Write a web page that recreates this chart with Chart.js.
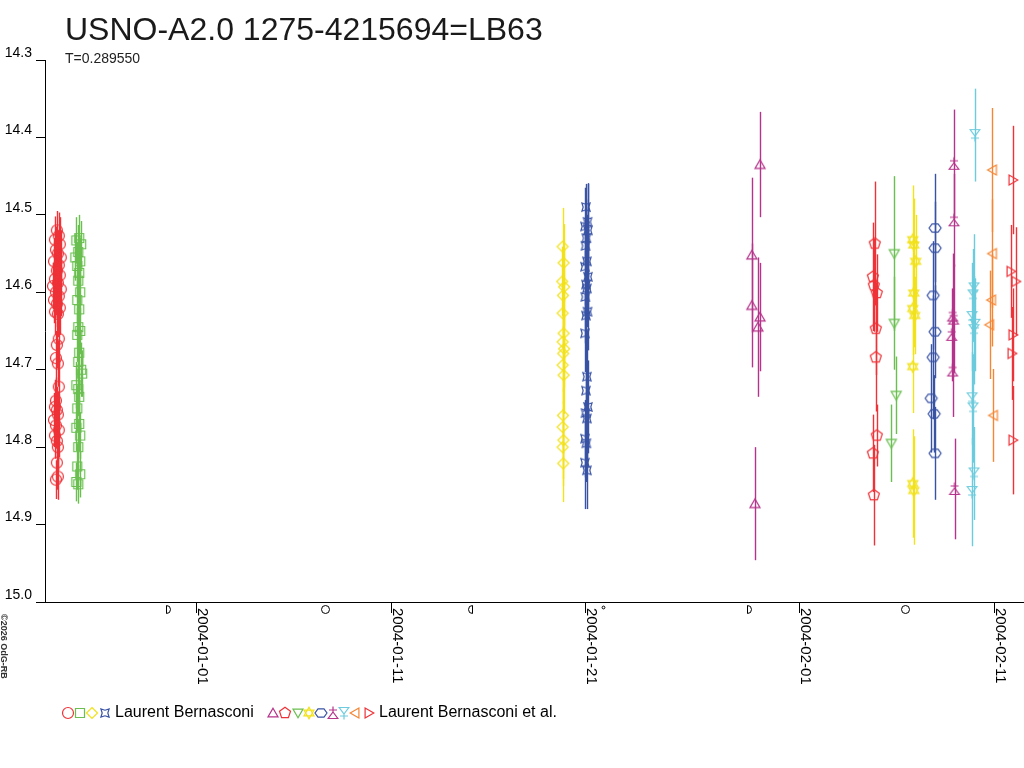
<!DOCTYPE html>
<html>
<head>
<meta charset="utf-8">
<script src="https://cdn.jsdelivr.net/npm/chart.js@4/dist/chart.umd.min.js"></script>
<style>
html,body{margin:0;padding:0;background:#fff;}
canvas{display:block;}
</style>
</head>
<body>
<canvas id="c" width="1024" height="768"></canvas>
<script>
// ---------- DATA (x = days since 2004-01-01, y = magnitude, e = error) ----------
const titleText = 'USNO-A2.0 1275-4215694=LB63';
const subtitleText = 'T=0.289550';
const copyrightText = '\u00A92026 OdG-RB';
const observerNames = ['Laurent Bernasconi', 'Laurent Bernasconi et al.'];

const xTickDays = [0, 10, 20, 31, 41];
const xTickLabels = ['2004-01-01', '2004-01-11', '2004-01-21', '2004-02-01', '2004-02-11'];
const yTickValues = [14.3, 14.4, 14.5, 14.6, 14.7, 14.8, 14.9, 15.0];
const yTickLabels = ['14.3', '14.4', '14.5', '14.6', '14.7', '14.8', '14.9', '15.0'];

const moonDays = [-1.5, 6.6, 14.05, 20.9, 28.4, 36.4];
const moonPhases = ['first', 'full', 'last', 'new', 'first', 'full'];

const redCircles = [
  [-7.20,14.520,0.025],[-7.10,14.527,0.03],[-7.30,14.532,0.03],[-7.05,14.538,0.035],[-7.25,14.545,0.03],
  [-7.15,14.550,0.03],[-7.00,14.555,0.035],[-7.35,14.560,0.03],[-7.10,14.565,0.03],[-7.20,14.572,0.03],
  [-7.05,14.578,0.035],[-7.30,14.583,0.03],[-7.15,14.588,0.03],[-7.40,14.592,0.03],[-7.00,14.596,0.035],
  [-7.25,14.600,0.03],[-7.10,14.605,0.03],[-7.35,14.610,0.03],[-7.20,14.615,0.03],[-7.05,14.620,0.035],
  [-7.30,14.625,0.03],[-7.15,14.628,0.03],[-7.10,14.660,0.035],[-7.20,14.668,0.03],[-7.25,14.685,0.035],
  [-7.15,14.692,0.03],[-7.10,14.722,0.035],[-7.25,14.740,0.03],[-7.30,14.748,0.035],[-7.20,14.752,0.03],
  [-7.15,14.758,0.03],[-7.35,14.765,0.035],[-7.25,14.772,0.03],[-7.10,14.778,0.035],[-7.30,14.785,0.03],
  [-7.20,14.792,0.03],[-7.15,14.800,0.03],[-7.20,14.820,0.035],[-7.15,14.838,0.03],[-7.25,14.842,0.025]
];
const greenSquares = [
  [-6.05,14.530,0.03],[-6.20,14.533,0.03],[-5.95,14.538,0.03],[-6.10,14.548,0.035],[-6.25,14.555,0.03],
  [-6.00,14.560,0.03],[-6.15,14.566,0.03],[-6.05,14.575,0.035],[-6.10,14.585,0.03],[-6.00,14.600,0.03],
  [-6.15,14.610,0.03],[-6.05,14.622,0.035],[-6.10,14.645,0.03],[-6.00,14.650,0.03],[-6.15,14.655,0.035],
  [-6.05,14.678,0.03],[-6.10,14.690,0.03],[-5.95,14.700,0.035],[-5.90,14.705,0.03],[-6.20,14.720,0.03],
  [-6.10,14.725,0.035],[-6.05,14.735,0.03],[-6.15,14.750,0.03],[-6.05,14.770,0.035],[-6.20,14.775,0.03],
  [-6.00,14.785,0.03],[-6.10,14.800,0.035],[-6.15,14.825,0.03],[-6.00,14.835,0.03],[-6.20,14.845,0.025],
  [-6.10,14.848,0.025]
];
const yellowDiamonds = [
  [18.80,14.541,0.05],[18.85,14.562,0.05],[18.78,14.586,0.045],[18.88,14.593,0.05],[18.82,14.604,0.05],
  [18.80,14.627,0.05],[18.85,14.653,0.045],[18.80,14.664,0.05],[18.88,14.673,0.05],[18.83,14.679,0.05],
  [18.80,14.694,0.05],[18.85,14.707,0.05],[18.82,14.759,0.05],[18.80,14.774,0.05],[18.84,14.791,0.05],
  [18.80,14.800,0.05],[18.83,14.821,0.05]
];
const blueStars = [
  [20.00,14.490,0.03],[20.08,14.509,0.05],[19.95,14.515,0.05],[20.10,14.520,0.06],[20.02,14.530,0.05],
  [19.98,14.540,0.05],[20.05,14.560,0.06],[19.95,14.567,0.05],[20.10,14.580,0.05],[20.00,14.590,0.06],
  [20.05,14.595,0.05],[19.97,14.606,0.06],[20.08,14.625,0.05],[20.00,14.630,0.06],[19.95,14.653,0.05],
  [20.05,14.709,0.06],[20.00,14.727,0.05],[20.10,14.748,0.06],[19.98,14.756,0.05],[20.05,14.763,0.06],
  [19.95,14.789,0.05],[20.02,14.795,0.05],[19.95,14.820,0.06],[20.05,14.830,0.05]
];
const magentaTriangles = [
  [28.95,14.435,0.068],[28.53,14.552,0.10],[28.53,14.617,0.08],[28.95,14.632,0.07],[28.84,14.645,0.09],[28.69,14.873,0.073]
];
const redPentagons = [
  [34.85,14.537,0.08],[34.75,14.580,0.07],[34.80,14.591,0.06],[34.95,14.601,0.05],[34.90,14.647,0.06],
  [34.90,14.684,0.07],[34.95,14.785,0.04],[34.75,14.808,0.05],[34.80,14.862,0.065]
];
const greenDownTriangles = [
  [35.85,14.550,0.10],[35.85,14.640,0.06],[35.95,14.733,0.05],[35.70,14.795,0.05]
];
const yellowStars6 = [
  [36.80,14.532,0.07],[36.85,14.539,0.06],[36.95,14.560,0.06],[36.85,14.601,0.07],[36.80,14.621,0.06],
  [36.90,14.630,0.05],[36.80,14.696,0.06],[36.80,14.847,0.07],[36.85,14.856,0.07]
];
const blueHexagons = [
  [37.95,14.517,0.07],[37.95,14.543,0.06],[37.85,14.604,0.07],[37.95,14.651,0.06],[37.85,14.684,0.08],
  [37.75,14.737,0.07],[37.90,14.757,0.05],[37.95,14.808,0.06]
];
const magentaTriStars = [
  [38.92,14.434,0.07],[38.92,14.507,0.06],[38.85,14.630,0.08],[38.90,14.634,0.07],[38.80,14.655,0.06],
  [38.85,14.701,0.06],[38.95,14.854,0.065]
];
const cyanTriStars = [
  [40.00,14.397,0.06],[39.95,14.595,0.07],[39.90,14.604,0.06],[39.85,14.632,0.07],[40.00,14.642,0.06],
  [39.95,14.649,0.07],[39.85,14.737,0.06],[39.90,14.750,0.07],[39.95,14.834,0.06],[39.85,14.858,0.07]
];
const orangeLeftTriangles = [
  [40.90,14.442,0.08],[40.90,14.550,0.07],[40.85,14.610,0.06],[40.75,14.642,0.07],[40.95,14.759,0.06]
];
const redRightTriangles = [
  [41.95,14.455,0.07],[41.85,14.573,0.06],[42.10,14.586,0.07],[41.95,14.655,0.06],[41.90,14.679,0.06],[41.95,14.791,0.07]
];

// ---------- STYLE ----------
const COL = {
  red: '#ee3338', green: '#6abf50', yellow: '#f2e21c', blue: '#3953a4',
  magenta: '#b5338a', cyan: '#6ccbdc', orange: '#f58634'
};
const FONT = '"Liberation Sans", Arial, Helvetica, sans-serif';

function polyPath(g, n, r, startDeg, sy) {
  sy = sy || 1;
  for (let i = 0; i < n; i++) {
    const a = (startDeg + i * 360 / n) * Math.PI / 180;
    const px = r * Math.cos(a), py = r * Math.sin(a) * sy;
    if (i === 0) g.moveTo(px, py); else g.lineTo(px, py);
  }
  g.closePath();
}
function makeSymbol(kind, color) {
  const c = document.createElement('canvas');
  c.width = 16; c.height = 16;
  const g = c.getContext('2d');
  g.strokeStyle = color; g.lineWidth = 1.2;
  g.translate(8, 8);
  g.beginPath();
  switch (kind) {
    case 'circle': g.arc(0, 0, 5.5, 0, Math.PI * 2); break;
    case 'square': g.rect(-4.5, -4.5, 9, 9); break;
    case 'diamond': g.moveTo(0, -5.5); g.lineTo(5.5, 0); g.lineTo(0, 5.5); g.lineTo(-5.5, 0); g.closePath(); break;
    case 'star4': {
      for (let i = 0; i < 8; i++) {
        const a = (45 + i * 45) * Math.PI / 180;
        const r = (i % 2 === 0) ? 5.8 : 2.8;
        const px = r * Math.cos(a), py = r * Math.sin(a);
        if (i === 0) g.moveTo(px, py); else g.lineTo(px, py);
      }
      g.closePath(); break;
    }
    case 'triUp': g.translate(0, 1); polyPath(g, 3, 5.8, -90); break;
    case 'triDown': g.translate(0, -1); polyPath(g, 3, 5.8, 90); break;
    case 'triLeft': g.translate(1, 0); polyPath(g, 3, 5.8, 180); break;
    case 'triRight': g.translate(-1, 0); polyPath(g, 3, 5.8, 0); break;
    case 'pentagon': polyPath(g, 5, 5.8, -90); break;
    case 'hexagon': polyPath(g, 6, 6, 0, 0.8); break;
    case 'star6': polyPath(g, 3, 5.8, -90); polyPath(g, 3, 5.8, 90); break;
    case 'triStarUp':
      g.moveTo(0, -1); g.lineTo(4.8, 5.5); g.lineTo(-4.8, 5.5); g.closePath();
      g.moveTo(0, -1); g.lineTo(0, -6.5);
      g.moveTo(-4, -3); g.lineTo(4, -3);
      break;
    case 'triStarDown':
      g.moveTo(0, 1); g.lineTo(4.8, -5.5); g.lineTo(-4.8, -5.5); g.closePath();
      g.moveTo(0, 1); g.lineTo(0, 6.5);
      g.moveTo(-4, 3); g.lineTo(4, 3);
      break;
  }
  g.stroke();
  return c;
}

const seriesDefs = [
  { data: redCircles, kind: 'circle', color: COL.red, group: 0 },
  { data: greenSquares, kind: 'square', color: COL.green, group: 0 },
  { data: yellowDiamonds, kind: 'diamond', color: COL.yellow, group: 0 },
  { data: blueStars, kind: 'star4', color: COL.blue, group: 0 },
  { data: magentaTriangles, kind: 'triUp', color: COL.magenta, group: 1 },
  { data: redPentagons, kind: 'pentagon', color: COL.red, group: 1 },
  { data: greenDownTriangles, kind: 'triDown', color: COL.green, group: 1 },
  { data: yellowStars6, kind: 'star6', color: COL.yellow, group: 1 },
  { data: blueHexagons, kind: 'hexagon', color: COL.blue, group: 1 },
  { data: magentaTriStars, kind: 'triStarUp', color: COL.magenta, group: 1 },
  { data: cyanTriStars, kind: 'triStarDown', color: COL.cyan, group: 1 },
  { data: orangeLeftTriangles, kind: 'triLeft', color: COL.orange, group: 1 },
  { data: redRightTriangles, kind: 'triRight', color: COL.red, group: 1 }
];
seriesDefs.forEach(s => s.img = makeSymbol(s.kind, s.color));

const datasets = seriesDefs.map(s => ({
  label: observerNames[s.group],
  data: s.data.map(d => ({ x: d[0], y: d[1], e: d[2] })),
  pointStyle: s.img,
  pointRadius: 5,
  pointHoverRadius: 5,
  borderColor: s.color,
  backgroundColor: 'transparent',
  showLine: false,
  clip: false
}));

// ---------- PLUGINS ----------
const errorBars = {
  id: 'errorBars',
  beforeDatasetsDraw(chart) {
    const { ctx, scales: { x, y } } = chart;
    ctx.save();
    ctx.lineWidth = 1.4;
    chart.data.datasets.forEach(ds => {
      ctx.strokeStyle = ds.borderColor;
      ds.data.forEach(p => {
        const px = Math.round(x.getPixelForValue(p.x)) + 0.5;
        ctx.beginPath();
        ctx.moveTo(px, y.getPixelForValue(p.y - p.e));
        ctx.lineTo(px, y.getPixelForValue(p.y + p.e));
        ctx.stroke();
      });
    });
    ctx.restore();
  }
};

function drawMoon(ctx, phase, cx, cy) {
  const r = 4;
  ctx.beginPath();
  if (phase === 'full') {
    ctx.arc(cx, cy, r, 0, Math.PI * 2);
    ctx.stroke();
  } else if (phase === 'first') {
    ctx.moveTo(cx - 2, cy - r);
    ctx.lineTo(cx - 2, cy + r);
    ctx.arc(cx - 2, cy, r, Math.PI / 2, -Math.PI / 2, true);
    ctx.stroke();
  } else if (phase === 'last') {
    ctx.moveTo(cx + 2, cy - r);
    ctx.lineTo(cx + 2, cy + r);
    ctx.arc(cx + 2, cy, r, Math.PI / 2, Math.PI * 1.5, false);
    ctx.stroke();
  } else {
    ctx.arc(cx, cy - 2, 1.4, 0, Math.PI * 2);
    ctx.stroke();
  }
}

const decorations = {
  id: 'decorations',
  afterDraw(chart) {
    const { ctx, scales: { x } } = chart;
    const area = chart.chartArea;
    ctx.save();
    // title + subtitle
    ctx.fillStyle = '#1a1a1a';
    ctx.textAlign = 'left';
    ctx.textBaseline = 'alphabetic';
    ctx.font = '32px ' + FONT;
    ctx.fillText(titleText, 65, 40);
    ctx.font = '14px ' + FONT;
    ctx.fillStyle = '#222';
    ctx.fillText(subtitleText, 65, 63);

    // rotated x tick labels (clockwise)
    ctx.fillStyle = '#000';
    ctx.font = '15px ' + FONT;
    xTickDays.forEach((d, i) => {
      const px = x.getPixelForValue(d);
      ctx.save();
      ctx.translate(px + 1.5, area.bottom + 6);
      ctx.rotate(Math.PI / 2);
      ctx.textAlign = 'left';
      ctx.textBaseline = 'alphabetic';
      ctx.fillText(xTickLabels[i], 0, 0);
      ctx.restore();
    });

    // moon phases
    ctx.strokeStyle = '#000';
    ctx.lineWidth = 1;
    moonDays.forEach((d, i) => {
      drawMoon(ctx, moonPhases[i], Math.round(x.getPixelForValue(d)) + 0.5, area.bottom + 7.5);
    });

    // copyright
    ctx.save();
    ctx.translate(1, area.bottom + 12);
    ctx.rotate(Math.PI / 2);
    ctx.font = 'bold 9px ' + FONT;
    ctx.fillStyle = '#333';
    ctx.textAlign = 'left';
    ctx.textBaseline = 'alphabetic';
    ctx.fillText(copyrightText, 0, 0);
    ctx.restore();

    // legend
    const ly = 713;
    const g0 = seriesDefs.filter(s => s.group === 0);
    const g1 = seriesDefs.filter(s => s.group === 1);
    const g0x = [68, 80, 92, 105];
    const g1x = [273, 285, 298, 309, 321, 333, 344, 355, 369];
    g0.forEach((s, i) => ctx.drawImage(s.img, g0x[i] - 8, ly - 8));
    g1.forEach((s, i) => ctx.drawImage(s.img, g1x[i] - 8, ly - 8));
    ctx.font = '16px ' + FONT;
    ctx.fillStyle = '#000';
    ctx.textBaseline = 'middle';
    ctx.fillText(observerNames[0], 115, ly);
    ctx.fillText(observerNames[1], 379, ly);
    ctx.restore();
  }
};

new Chart(document.getElementById('c'), {
  type: 'scatter',
  data: { datasets },
  options: {
    responsive: false,
    devicePixelRatio: 1,
    animation: false,
    events: [],
    layout: { autoPadding: false, padding: { top: 60, left: 0, right: 0, bottom: 0 } },
    plugins: { legend: { display: false }, tooltip: { enabled: false }, title: { display: false } },
    elements: { point: { borderWidth: 1 } },
    scales: {
      x: {
        type: 'linear',
        position: 'bottom',
        min: -7.81,
        max: 42.52,
        afterFit(s) { s.height = 166; },
        afterBuildTicks(s) { s.ticks = xTickDays.map(v => ({ value: v })); },
        grid: { drawOnChartArea: false, drawTicks: true, tickLength: 11, color: '#000', lineWidth: 1 },
        border: { display: true, color: '#000', width: 1 },
        ticks: { display: false }
      },
      y: {
        type: 'linear',
        reverse: true,
        min: 14.3,
        max: 15.0,
        afterFit(s) { s.width = 45; },
        afterBuildTicks(s) { s.ticks = yTickValues.map(v => ({ value: v })); },
        grid: { drawOnChartArea: false, drawTicks: true, tickLength: 9, color: '#000', lineWidth: 1 },
        border: { display: true, color: '#000', width: 1 },
        ticks: {
          color: '#000',
          font: { family: FONT, size: 14 },
          padding: 4,
          labelOffset: -7,
          callback: (v, i) => yTickLabels[i]
        }
      }
    }
  },
  plugins: [errorBars, decorations]
});
</script>
</body>
</html>
